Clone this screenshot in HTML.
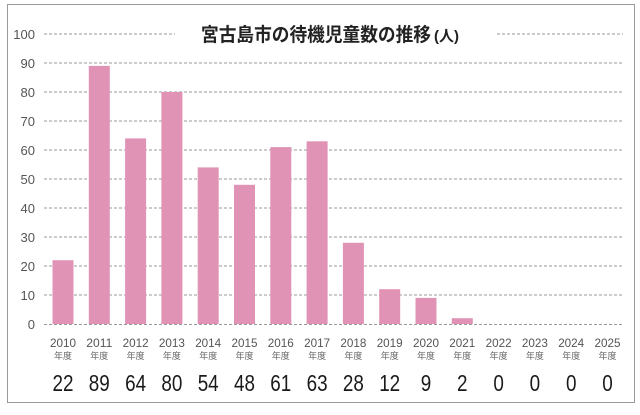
<!DOCTYPE html>
<html><head><meta charset="utf-8"><style>
html,body{margin:0;padding:0;background:#fff}
svg{display:block}
text{font-family:"Liberation Sans","Noto Sans CJK JP",sans-serif}
</style></head><body>
<svg width="640" height="415" viewBox="0 0 640 415" xmlns="http://www.w3.org/2000/svg">
<rect x="7.5" y="4.5" width="627" height="398" fill="#fff" stroke="#9a9a9a" stroke-width="1"/>
<g stroke="#9a9a9a" stroke-width="1" stroke-dasharray="3,2">
<line x1="44" y1="34" x2="175" y2="34"/><line x1="497" y1="34" x2="623" y2="34"/>
<line x1="44" y1="63" x2="623" y2="63"/>
<line x1="44" y1="92" x2="623" y2="92"/>
<line x1="44" y1="121" x2="623" y2="121"/>
<line x1="44" y1="150" x2="623" y2="150"/>
<line x1="44" y1="179" x2="623" y2="179"/>
<line x1="44" y1="208" x2="623" y2="208"/>
<line x1="44" y1="237" x2="623" y2="237"/>
<line x1="44" y1="266" x2="623" y2="266"/>
<line x1="44" y1="295" x2="623" y2="295"/>
<line x1="44" y1="324.5" x2="623" y2="324.5"/>
</g>
<g font-size="13" fill="#555" text-anchor="end">
<text x="35" y="39">100</text><text x="35" y="68">90</text><text x="35" y="97">80</text>
<text x="35" y="126">70</text><text x="35" y="155">60</text><text x="35" y="184">50</text>
<text x="35" y="213">40</text><text x="35" y="242">30</text><text x="35" y="271">20</text>
<text x="35" y="300">10</text><text x="35" y="329">0</text>
</g>
<text x="201" y="41" font-size="19" font-weight="bold" fill="#222" textLength="230" lengthAdjust="spacingAndGlyphs">宮古島市の待機児童数の推移</text>
<text x="434" y="41" font-size="15" font-weight="bold" fill="#222">(人)</text>
<g fill="#e193b6" id="bars"></g>
<g id="labels"></g>
<script>
var v=[22,89,64,80,54,48,61,63,28,12,9,2,0,0,0,0];
var b=document.getElementById('bars'),l=document.getElementById('labels'),ns='http://www.w3.org/2000/svg';
v.forEach(function(d,i){var c=63+i*36.3;
if(d>0){var r=document.createElementNS(ns,'rect');r.setAttribute('x',c-10.5);r.setAttribute('width',21);r.setAttribute('y',324-d*2.9);r.setAttribute('height',d*2.9);b.appendChild(r);}
function t(y,fs,col,txt,len){var e=document.createElementNS(ns,'text');e.setAttribute('x',c);e.setAttribute('y',y);e.setAttribute('font-size',fs);e.setAttribute('fill',col);e.setAttribute('text-anchor','middle');if(len){e.setAttribute('textLength',len);e.setAttribute('lengthAdjust','spacingAndGlyphs');}e.textContent=txt;l.appendChild(e);}
t(347,12,'#555',2010+i,26);t(359,9,'#666','年度');t(391,23,'#1a1a1a',d,String(d).length*10.5);
});
</script>
</svg>
</body></html>
